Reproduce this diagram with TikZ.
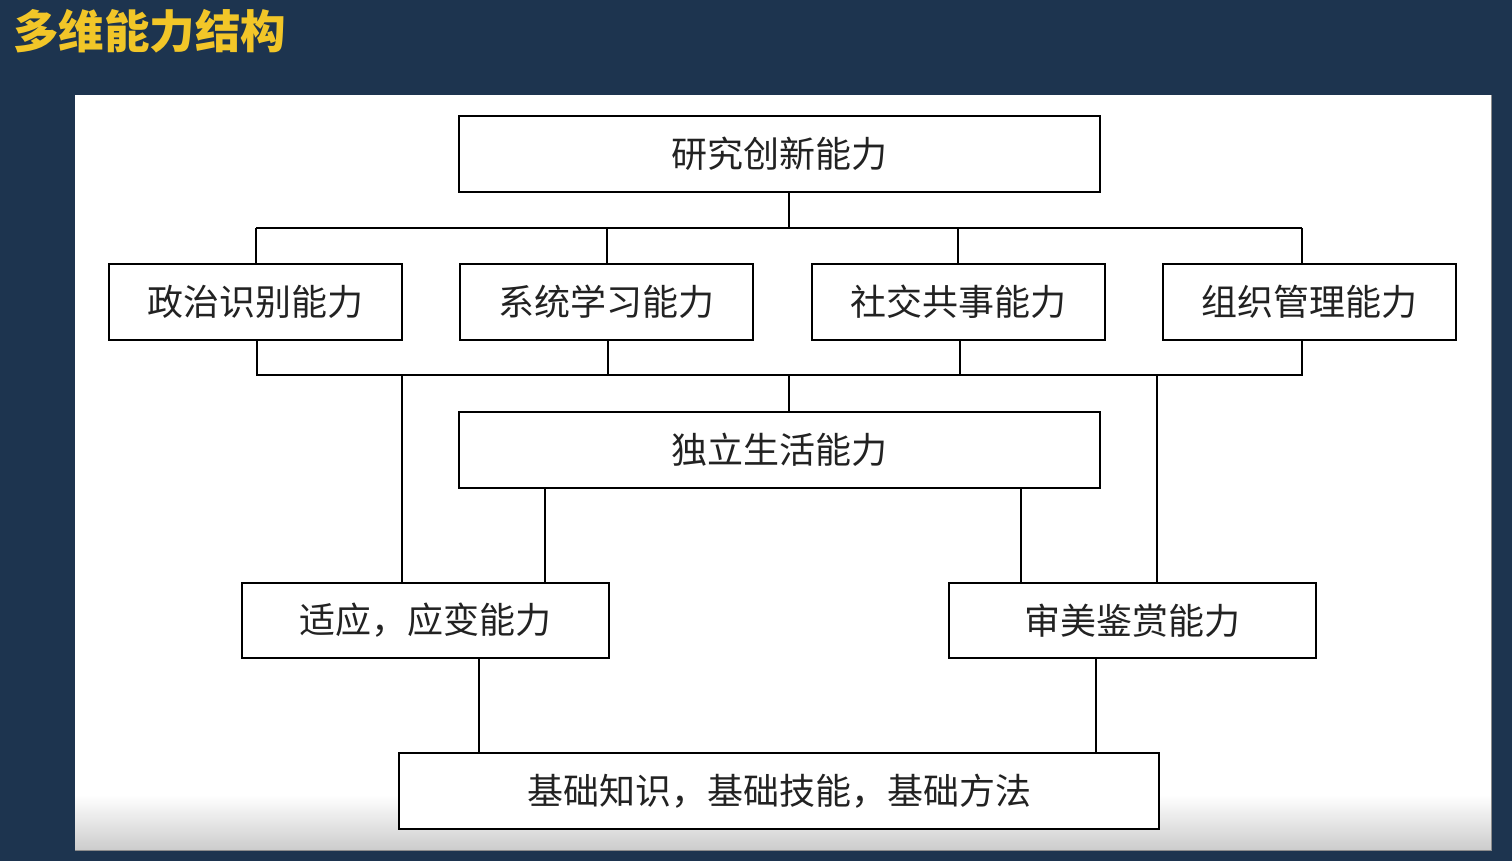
\documentclass[tikz,border=0pt]{standalone}
\usepackage{fontspec}
\newfontfamily\cjk{Noto Sans CJK SC}
\usetikzlibrary{calc}
\definecolor{navy}{RGB}{29,52,79}
\definecolor{gold}{RGB}{242,198,40}
\definecolor{txt}{RGB}{34,34,34}
\begin{document}
\begin{tikzpicture}[x=1pt,y=-1pt,
  box/.style={draw=black, line width=2.6pt, fill=white, minimum width=#1,
    minimum height=76pt, inner sep=0pt, text=txt,
    font=\cjk\fontsize{36}{42}\selectfont},
  link/.style={draw=black, line width=2.6pt}]
\useasboundingbox (0,0) rectangle (1512,861);
\fill[navy] (0,0) rectangle (1512,861);
% panel
\fill[white] (75,95) rectangle (1491,850);
\shade[top color=white, bottom color=black!20] (75,795) rectangle (1491,850);
\draw[black!45, line width=1pt] (75,850) -- (1491,850) -- (1491,95);
% title
\node[anchor=west, text=gold, font=\cjk\bfseries\fontsize{45.5}{50}\selectfont, inner sep=0pt] (title) at (13,31) {多维能力结构};
% boxes
\node[box=641pt] (top) at (779.5,154) {研究创新能力};
\node[box=293pt] (p1) at (255.5,302) {政治识别能力};
\node[box=293pt] (p2) at (606.5,302) {系统学习能力};
\node[box=293pt] (p3) at (958.5,302) {社交共事能力};
\node[box=293pt] (p4) at (1309.5,302) {组织管理能力};
\node[box=641pt] (indep) at (779.5,450) {独立生活能力};
\node[box=367pt, minimum height=75pt] (adapt) at (425.5,620.5) {适应，应变能力};
\node[box=367pt, minimum height=75pt] (aest) at (1132.5,620.5) {审美鉴赏能力};
\node[box=760pt] (base) at (779,791) {基础知识，基础技能，基础方法};
% upper bus
\coordinate (tc) at (789,228);
\coordinate (u1) at (256,228);
\coordinate (u2) at (607,228);
\coordinate (u3) at (958,228);
\coordinate (u4) at (1302,228);
\draw[link] (top.south -| tc) -- (tc);
\draw[link] (u1) -- (u4);
\draw[link] (u1) -- (u1 |- p1.north);
\draw[link] (u2) -- (u2 |- p2.north);
\draw[link] (u3) -- (u3 |- p3.north);
\draw[link] (u4) -- (u4 |- p4.north);
% lower bus
\coordinate (l1) at (257,375);
\coordinate (l2) at (608,375);
\coordinate (l3) at (960,375);
\coordinate (l4) at (1302,375);
\coordinate (lc) at (789,375);
\coordinate (la) at (402,375);
\coordinate (lb) at (1157,375);
\draw[link] (l1 |- p1.south) -- (l1) -- (l4) -- (l4 |- p4.south);
\draw[link] (l2 |- p2.south) -- (l2);
\draw[link] (l3 |- p3.south) -- (l3);
\draw[link] (lc) -- (lc |- indep.north);
\draw[link] (la) -- (la |- adapt.north);
\draw[link] (lb) -- (lb |- aest.north);
% independent to second layer
\coordinate (ia) at (545,488);
\coordinate (ib) at (1021,488);
\draw[link] (indep.south -| ia) -- (ia |- adapt.north);
\draw[link] (indep.south -| ib) -- (ib |- aest.north);
% to base
\coordinate (ba) at (479,700);
\coordinate (bb) at (1096,700);
\draw[link] (adapt.south -| ba) -- (ba |- base.north);
\draw[link] (aest.south -| bb) -- (bb |- base.north);
\end{tikzpicture}
\end{document}
